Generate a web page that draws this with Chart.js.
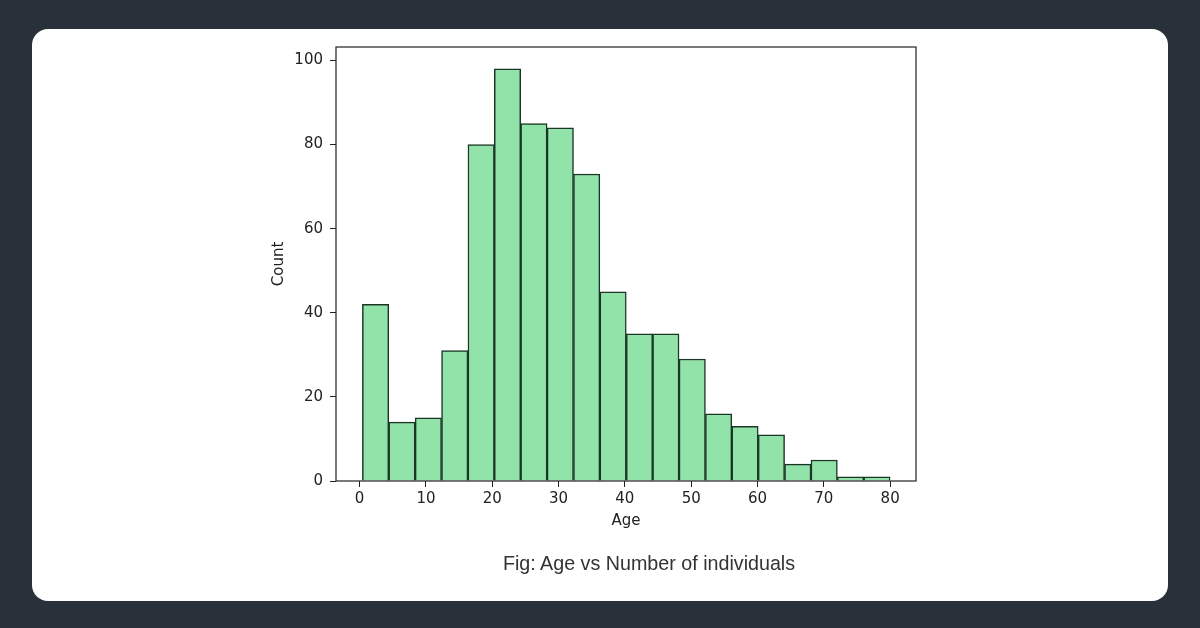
<!DOCTYPE html>
<html>
<head>
<meta charset="utf-8">
<script src="https://cdn.jsdelivr.net/npm/chart.js@4/dist/chart.umd.min.js"></script>
<style>
  html, body { margin: 0; padding: 0; }
  body { width: 1200px; height: 628px; background: #28313a; position: relative; overflow: hidden; }
  .card { position: absolute; left: 32px; top: 29px; width: 1136px; height: 572px; background: #fff; border-radius: 16px; }
  #wrap { position: absolute; left: 0; top: 0; width: 1200px; height: 628px; }
  .caption { position: absolute; left: 0; width: 1200px; top: 552px; text-align: center; text-indent: 98px;
    font-family: "Liberation Sans", Arial, sans-serif; font-size: 19.7px; color: #333; }
</style>
</head>
<body>
<div class="card"></div>
<div id="wrap"><canvas id="myChart" width="1200" height="628"></canvas></div>
<div class="caption">Fig: Age vs Number of individuals</div>
<script>
// histogram bins (Age), 20 bins from 0.42 to 80
const binStart = 0.42;
const binEnd = 80;
const counts = [42, 14, 15, 31, 80, 98, 85, 84, 73, 45, 35, 35, 29, 16, 13, 11, 4, 5, 1, 1];
const xTicks = [0, 10, 20, 30, 40, 50, 60, 70, 80];
const yTicks = [0, 20, 40, 60, 80, 100];

const binWidth = (binEnd - binStart) / counts.length;
const points = counts.map((c, i) => ({ x: binStart + binWidth * (i + 0.5), y: c }));

const tickFont = { family: 'DejaVu Sans', size: 15 };
const textCol = '#222';

// frame round the plot (matplotlib style box)
const frame = {
    id: 'frame',
    afterDraw(chart) {
        const a = chart.chartArea, c = chart.ctx;
        c.save();
        c.strokeStyle = '#222';
        c.lineWidth = 1.2;
        c.strokeRect(a.left, a.top, a.right - a.left, a.bottom - a.top);
        c.restore();
    }
};

const ctx = document.getElementById('myChart');
new Chart(ctx, {
    type: 'bar',
    data: {
        datasets: [{
            data: points,
            backgroundColor: '#92e3a9',
            borderColor: '#1b3626',
            borderWidth: 1.5,
            barPercentage: 1,
            categoryPercentage: 1
        }]
    },
    options: {
        responsive: false,
        animation: false,
        maintainAspectRatio: false,
        layout: { padding: { left: 266, right: 284, top: 47, bottom: 87 } },
        plugins: { legend: { display: false }, tooltip: { enabled: false } },
        scales: {
            x: {
                type: 'linear',
                offset: false,
                min: binStart - binWidth,
                max: binEnd + binWidth * 0.98,
                afterBuildTicks: s => { s.ticks = xTicks.map(v => ({ value: v })); },
                afterFit: s => { s.height = 60; },
                grid: { offset: false, drawOnChartArea: false, tickLength: 6, tickColor: '#222', tickWidth: 1 },
                border: { display: false },
                ticks: { font: tickFont, color: textCol, padding: 3, maxRotation: 0 },
                title: { display: true, text: 'Age', font: tickFont, color: textCol, padding: { top: 0, bottom: 11 } }
            },
            y: {
                min: 0,
                max: 103.2,
                afterBuildTicks: s => { s.ticks = yTicks.map(v => ({ value: v })); },
                afterFit: s => { s.width = 70; },
                grid: { drawOnChartArea: false, tickLength: 6, tickColor: '#222', tickWidth: 1 },
                border: { display: false },
                ticks: { font: tickFont, color: textCol, padding: 7 },
                title: { display: true, text: 'Count', font: tickFont, color: textCol, padding: { bottom: 0 } }
            }
        }
    },
    plugins: [frame]
});
</script>
</body>
</html>
